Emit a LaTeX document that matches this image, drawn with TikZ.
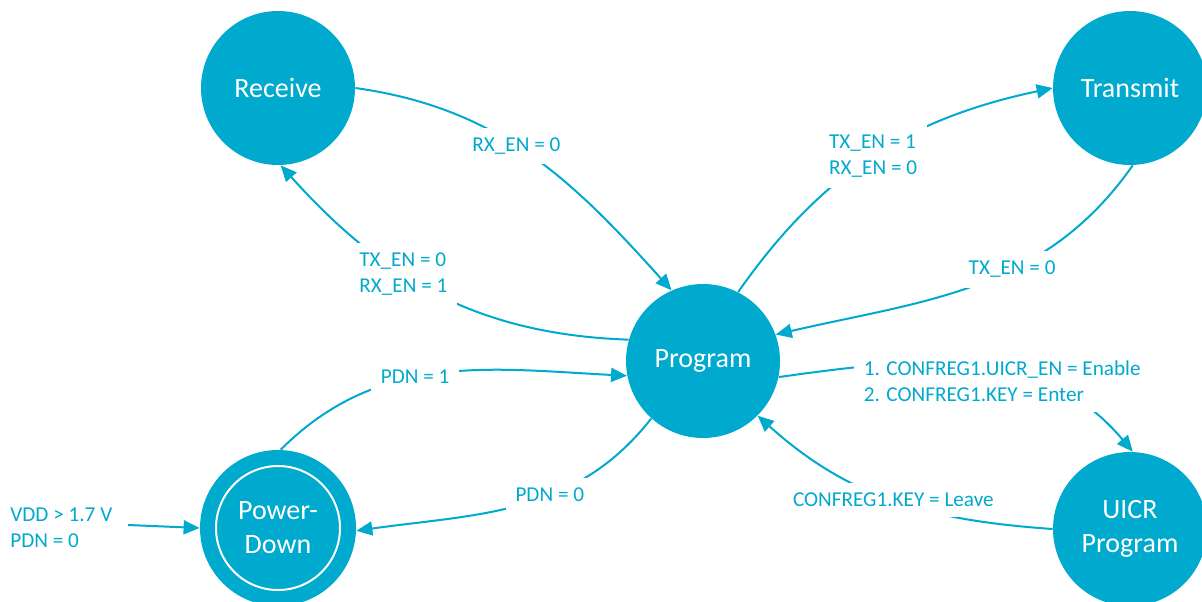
\documentclass[tikz,border=0pt]{standalone}
\usepackage{fontspec}
\setmainfont{Carlito}
\usetikzlibrary{positioning,arrows.meta}
\definecolor{nordic}{HTML}{00A9CE}

\begin{document}
\begin{tikzpicture}[x=0.5pt, y=0.5pt, >={Triangle[length=8pt,width=7pt]},
  state/.style={circle, fill=nordic, text=white, minimum size=77pt, inner sep=0pt,
    align=center, font=\fontsize{14}{17}\selectfont},
  lbl/.style={fill=white, text=nordic, align=left, inner sep=5pt,
    font=\fontsize{10.6}{13}\selectfont},
  every edge/.style={draw=nordic, line width=1pt}]
  \useasboundingbox (0,0) rectangle (1202,601);

  \node[state] (rx) at (278,513) {Receive};
  \node[state] (tx) at (1130,513) {Transmit};
  \node[state] (prog) at (703,240) {Program};
  \node[state, minimum size=78pt] (pd) at (278,73) {Power-\\Down};
  \draw[white, line width=1pt] (pd.center) circle[radius=31pt];
  \node[state] (uicr) at (1130,72) {UICR\\Program};

  \node[lbl, anchor=west, inner sep=0pt] (vdd) at (10,73) {VDD > 1.7 V\\PDN = 0};
  \coordinate (init) at (128,76);

  \path[->] (rx.0) edge[out=-8, in=132] node[lbl, pos=0.45] {RX\_EN = 0} (prog.114);
  \path[->] (prog.164) edge[out=178, in=-48] node[lbl, pos=0.6] {TX\_EN = 0\\RX\_EN = 1} (rx.-88);
  \path[->] (prog.63) edge[out=55, in=-168] node[lbl, pos=0.5] {TX\_EN = 1\\RX\_EN = 0} (tx.180);
  \path[->] (tx.-88) edge[out=-125, in=13] node[lbl, pos=0.4] {TX\_EN = 0} (prog.20);
  \path[->] (prog.-12) edge[out=8, in=130] node[lbl, pos=0.58, yshift=-5pt] {1. CONFREG1.UICR\_EN = Enable\\2. CONFREG1.KEY = Enter} (uicr.88);
  \path[->] (uicr.180) edge[out=176, in=-42] node[lbl, pos=0.5] {CONFREG1.KEY = Leave} (prog.-45);
  \path[->] (pd.88) edge[out=45, in=177] node[lbl, pos=0.43] {PDN = 1} (prog.191);
  \path[->] (prog.-132) edge[out=-128, in=8] node[lbl, pos=0.4] {PDN = 0} (pd.-2);
  \path[->] (init) edge (pd.180);
\end{tikzpicture}
\end{document}
